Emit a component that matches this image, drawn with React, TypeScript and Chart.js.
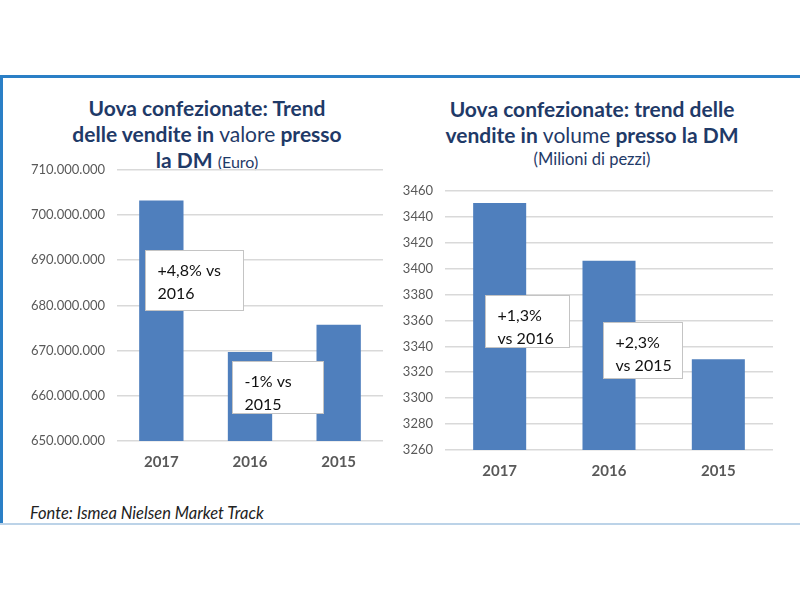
import React, { useEffect, useRef } from "react";
import { Chart, registerables } from "chart.js";

Chart.register(...registerables);

// ---- data ----
const categories = ["2017", "2016", "2015"];
const valueSales = [703200000, 669700000, 675700000];
const volumeSales = [3450.5, 3406, 3330];
const valueAxis = { min: 650000000, max: 710000000, step: 10000000 };
const volumeAxis = { min: 3260, max: 3460, step: 20 };
const valueNotes = [
  { x: -0.18, y: 692300000, w: 98, h: 60, lines: ["+4,8% vs", "2016"] },
  { x: 0.8, y: 667700000, w: 91, h: 52, lines: ["-1% vs", "2015"] },
];
const volumeNotes = [
  { x: -0.134, y: 3379.8, w: 84, h: 52, lines: ["+1,3%", "vs 2016"] },
  { x: 0.945, y: 3359, w: 79, h: 56, lines: ["+2,3%", "vs 2015"] },
];

const BAR = "#4f7fbd";
const GRID = "#d9d9d9";
const TICK = "#595959";
const NAVY = "#1f3a68";

function dots(v: number) {
  return String(Math.round(v)).replace(/\B(?=(\d{3})+(?!\d))/g, ".");
}

function notesPlugin(notes: any[]) {
  return {
    id: "boxNotes",
    afterDatasetsDraw(chart: any) {
      const ctx = chart.ctx;
      const xs = chart.scales.x;
      const ys = chart.scales.y;
      ctx.save();
      for (const n of notes) {
        const x = Math.round(xs.getPixelForValue(n.x)) + 0.5;
        const y = Math.round(ys.getPixelForValue(n.y)) + 0.5;
        ctx.fillStyle = "#ffffff";
        ctx.fillRect(x, y, n.w, n.h);
        ctx.strokeStyle = "#c4c4c4";
        ctx.lineWidth = 1;
        ctx.strokeRect(x, y, n.w, n.h);
        ctx.fillStyle = "#111111";
        ctx.font = "16px Lato";
        ctx.textBaseline = "middle";
        ctx.textAlign = "left";
        n.lines.forEach((t: string, i: number) => {
          ctx.fillText(t, x + 12, y + 20 + i * 23);
        });
      }
      ctx.restore();
    },
  };
}

function BarChart(props: {
  values: number[];
  axis: { min: number; max: number; step: number };
  notes: any[];
  yWidth: number;
  fmt: (v: number) => string;
  barPct: number;
  style: React.CSSProperties;
}) {
  const ref = useRef<HTMLCanvasElement | null>(null);
  useEffect(() => {
    if (!ref.current) return;
    const chart = new Chart(ref.current, {
      type: "bar",
      data: {
        labels: categories,
        datasets: [
          {
            data: props.values,
            backgroundColor: BAR,
            borderWidth: 0,
            categoryPercentage: 1,
            barPercentage: props.barPct,
          },
        ],
      },
      options: {
        animation: false,
        responsive: false,
        maintainAspectRatio: false,
        layout: { padding: { top: 10, right: 12, left: 0, bottom: 0 } },
        plugins: {
          legend: { display: false },
          tooltip: { enabled: false },
          title: { display: false },
        },
        scales: {
          x: {
            grid: { display: false, drawTicks: false },
            border: { display: false },
            ticks: {
              color: TICK,
              padding: 12,
              font: { family: "Lato", size: 15, weight: "bold" },
            },
            afterFit: (s: any) => {
              s.height = 40;
            },
          },
          y: {
            min: props.axis.min,
            max: props.axis.max,
            grid: { color: GRID, lineWidth: 1.5, drawTicks: false },
            border: { display: false },
            ticks: {
              stepSize: props.axis.step,
              color: TICK,
              padding: 12,
              font: { family: "Lato", size: 13 },
              callback: (v: any) => props.fmt(Number(v)),
            },
            afterFit: (s: any) => {
              s.width = props.yWidth;
            },
          },
        },
      },
      plugins: [notesPlugin(props.notes)],
    } as any);
    return () => chart.destroy();
  }, []);
  const w = props.style.width as number;
  const h = props.style.height as number;
  return (
    <canvas
      ref={ref}
      width={w}
      height={h}
      style={{ position: "absolute", ...props.style }}
    />
  );
}

export default function App() {
  const titleBase: React.CSSProperties = {
    position: "absolute",
    textAlign: "center",
    color: NAVY,
    fontFamily: "Lato",
    fontWeight: 700,
    fontSize: 21,
    lineHeight: "26px",
    whiteSpace: "nowrap",
  };
  return (
    <div
      style={{
        position: "fixed",
        left: 0,
        top: 0,
        width: 800,
        height: 600,
        background: "#ffffff",
        overflow: "hidden",
      }}
    >
      {/* frame */}
      <div style={{ position: "absolute", left: 0, top: 75, width: 800, height: 3, background: "#2a7fc6" }} />
      <div style={{ position: "absolute", left: 0, top: 77, width: 3, height: 447, background: "#2a7fc6" }} />
      <div style={{ position: "absolute", left: 0, top: 523, width: 800, height: 1.5, background: "#bcd3e8" }} />

      {/* left title */}
      <div style={{ ...titleBase, left: 7, width: 400, top: 95 }}>
        <div>Uova confezionate: Trend</div>
        <div>
          delle vendite in <span style={{ fontWeight: 400 }}>valore</span> presso
        </div>
        <div>
          la DM <span style={{ fontWeight: 400, fontSize: 16 }}>(Euro)</span>
        </div>
      </div>

      {/* right title */}
      <div style={{ ...titleBase, left: 392, width: 400, top: 96 }}>
        <div>Uova confezionate: trend delle</div>
        <div>
          vendite in <span style={{ fontWeight: 400 }}>volume</span> presso la DM
        </div>
        <div style={{ fontWeight: 400, fontSize: 16.5, lineHeight: "22px" }}>(Milioni di pezzi)</div>
      </div>

      <BarChart
        values={valueSales}
        axis={valueAxis}
        notes={valueNotes}
        yWidth={97}
        fmt={dots}
        barPct={0.5}
        style={{ left: 20, top: 150, width: 375, height: 331 }}
      />
      <BarChart
        values={volumeSales}
        axis={volumeAxis}
        notes={volumeNotes}
        yWidth={45}
        fmt={(v) => String(v)}
        barPct={0.485}
        style={{ left: 400, top: 171, width: 385, height: 319 }}
      />

      <div
        style={{
          position: "absolute",
          left: 30,
          top: 503,
          fontFamily: "Lato",
          fontStyle: "italic",
          fontSize: 16.5,
          color: "#222222",
          whiteSpace: "nowrap",
        }}
      >
        Fonte: Ismea Nielsen Market Track
      </div>
    </div>
  );
}
